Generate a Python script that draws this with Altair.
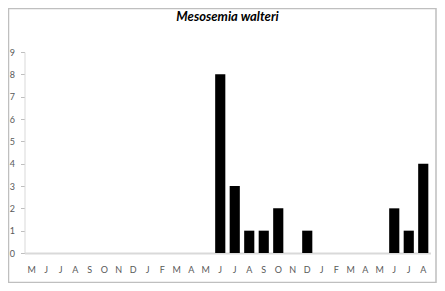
import altair as alt
import pandas as pd

months = ["M","J","J","A","S","O","N","D","J","F","M","A","M","J","J","A","S","O","N","D","J","F","M","A","M","J","J","A"]
counts = [0,0,0,0,0,0,0,0,0,0,0,0,0,8,3,1,1,2,0,1,0,0,0,0,0,2,1,4]

df = pd.DataFrame({"idx": list(range(len(months))), "month": months, "count": counts})
label_expr = "[" + ",".join("'%s'" % m for m in months) + "][datum.value]"

W, H = 406, 201

bars = alt.Chart(df).mark_bar(color="black").encode(
    x=alt.X("idx:O", title=None,
            scale=alt.Scale(paddingInner=0.3, paddingOuter=0.15),
            axis=alt.Axis(labelExpr=label_expr, labelAngle=0, ticks=False,
                          domainColor="#d9d9d9", domainWidth=2, labelPadding=12,
                          labelColor="#595959", labelFontSize=9, labelFont="Lato")),
    y=alt.Y("count:Q", title=None,
            scale=alt.Scale(domain=[0, 9], nice=False),
            axis=alt.Axis(values=list(range(10)), grid=False, domainColor="#d9d9d9",
                          tickColor="#bfbfbf", tickSize=4, labelPadding=6,
                          labelColor="#595959", labelFontSize=9, labelFont="Lato")),
)

frame = alt.Chart(pd.DataFrame({"a": [0]})).mark_rect(
    fill="transparent", stroke="#bfbfbf", strokeWidth=1.5
).encode(
    x=alt.value(-16), x2=alt.value(W + 5.5),
    y=alt.value(-43.5), y2=alt.value(H + 29.5),
)

chart = alt.layer(frame, bars).properties(
    width=W, height=H,
    autosize=alt.AutoSizeParams(type="none"),
    padding={"left": 16.5, "top": 44, "right": 6, "bottom": 30},
    title=alt.TitleParams("Mesosemia walteri", font="Lato", fontSize=13,
                          fontStyle="italic", fontWeight="bold", color="black",
                          anchor="middle", offset=-16),
).configure_view(stroke=None)

chart.save("out.html", embed_options={"renderer": "svg", "actions": False})
